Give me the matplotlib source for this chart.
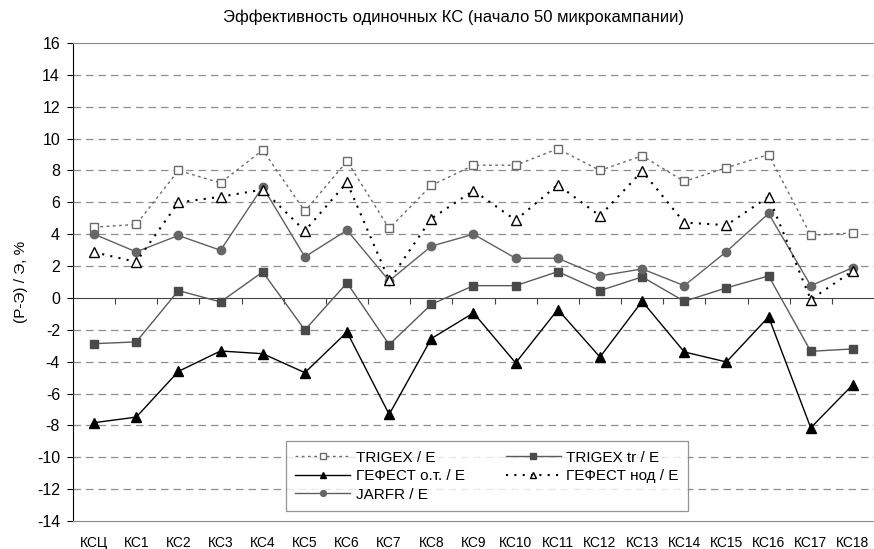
import matplotlib
matplotlib.use("Agg")
import matplotlib.pyplot as plt

plt.rcParams["font.family"] = ["Liberation Sans", "DejaVu Sans"]
plt.rcParams["axes.unicode_minus"] = False

categories = ["КСЦ"] + [f"КС{i}" for i in range(1, 19)]

trigex_e = [4.44, 4.61, 8.0, 7.22, 9.28, 5.44, 8.59, 4.36, 7.06, 8.33,
            8.33, 9.36, 8.0, 8.92, 7.31, 8.17, 9.0, 3.94, 4.08]
trigex_tr = [-2.87, -2.76, 0.46, -0.25, 1.63, -2.01, 0.94, -2.93, -0.4, 0.77,
             0.77, 1.65, 0.46, 1.32, -0.21, 0.63, 1.38, -3.35, -3.2]
gefest_ot = [-7.83, -7.48, -4.61, -3.33, -3.5, -4.69, -2.14, -7.31, -2.55, -0.94,
             -4.08, -0.73, -3.71, -0.21, -3.39, -4.02, -1.19, -8.15, -5.44]
gefest_nod = [2.87, 2.26, 5.99, 6.35, 6.8, 4.21, 7.25, 1.1, 4.98, 6.74,
              4.88, 7.1, 5.15, 7.96, 4.73, 4.57, 6.35, -0.1, 1.7]
jarfr = [4.0, 2.89, 3.92, 2.99, 6.97, 2.58, 4.25, 1.07, 3.25, 4.0,
         2.49, 2.49, 1.38, 1.82, 0.77, 2.91, 5.3, 0.77, 1.9]

y_ticks = list(range(-14, 17, 2))

fig = plt.figure(figsize=(8.74, 5.49), dpi=100)
ax = fig.add_axes([73 / 874, 28 / 549, 1 - 73 / 874, 478 / 549])

x = list(range(len(categories)))

l1, = ax.plot(x, trigex_e, color="#6a6a6a", lw=1.0, ls=(0, (2, 2.5)),
              marker="s", ms=6, mfc="white", mec="#6a6a6a", mew=1.0,
              label="TRIGEX / E", zorder=4)
l2, = ax.plot(x, trigex_tr, color="#5a5a5a", lw=1.0, ls="-",
              marker="s", ms=6, mfc="#4a4a4a", mec="#4a4a4a",
              label="TRIGEX tr / E", zorder=4)
l3, = ax.plot(x, gefest_ot, color="black", lw=1.0, ls="-",
              marker="^", ms=7, mfc="black", mec="black",
              label="ГЕФЕСТ о.т. / E", zorder=5)
l4, = ax.plot(x, gefest_nod, color="black", lw=1.5, ls=(0, (1, 3)),
              marker="^", ms=7, mfc="white", mec="black", mew=1.0,
              label="ГЕФЕСТ нод / E", zorder=5)
l5, = ax.plot(x, jarfr, color="#606060", lw=1.0, ls="-",
              marker="o", ms=6, mfc="#666666", mec="#666666",
              label="JARFR / E", zorder=4)

ax.set_xlim(-0.5, len(categories) - 0.5)
ax.set_ylim(y_ticks[0], y_ticks[-1])
ax.set_yticks(y_ticks)
ax.set_xticks(x)
ax.set_xticklabels(categories)
ax.tick_params(axis="x", length=0, pad=11, labelsize=10)
ax.tick_params(axis="y", length=4.3, direction="out", labelsize=11.5, pad=5)

for v in y_ticks:
    if v not in (0, y_ticks[0], y_ticks[-1]):
        ax.axhline(v, color="#8f8f8f", lw=0.9, ls=(0, (6, 4)), zorder=1)

ax.spines["right"].set_visible(False)
ax.spines["top"].set_color("#8a8a8a")
ax.spines["bottom"].set_color("#8a8a8a")
ax.spines["left"].set_color("black")

# ось категорий проходит через ноль
zero_pos = (0 - y_ticks[0]) / (y_ticks[-1] - y_ticks[0])
sec = ax.secondary_xaxis(zero_pos)
sec.set_xticks([i + 0.5 for i in x[:-1]])
sec.tick_params(axis="x", length=4, direction="out", labelbottom=False,
                labeltop=False, color="#444444")
for s in sec.spines.values():
    s.set_color("#444444")

ax.set_ylabel("(Р-Э) / Э, %", fontsize=11, labelpad=6)
fig.text(453 / 874, 1 - 17 / 549, "Эффективность одиночных КС (начало 50 микрокампании)",
         ha="center", va="center", fontsize=12)

leg = ax.legend(handles=[l1, l3, l5, l2, l4], ncol=2, loc="lower left",
                bbox_to_anchor=(0.266, 0.021), markerscale=0.7,
                fontsize=11, frameon=True, fancybox=False, handlelength=3.6,
                labelspacing=0.3, borderpad=0.6, handletextpad=0.35,
                columnspacing=2.7, borderaxespad=0)
leg.get_frame().set_edgecolor("#7a7a7a")
leg.get_frame().set_linewidth(0.9)

fig.savefig("out.png", dpi=100)
